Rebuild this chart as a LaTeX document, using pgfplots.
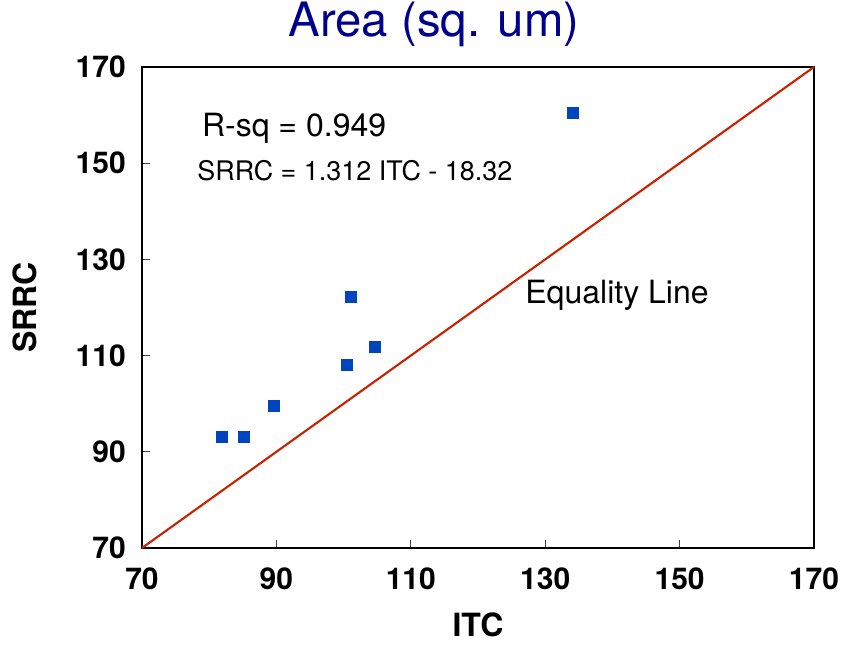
\documentclass[border=0pt]{standalone}
\usepackage{pgfplots}
\pgfplotsset{compat=1.18}
\usepackage{fontspec}
\setmainfont{TeX Gyre Heros}
\definecolor{ttl}{RGB}{0,0,140}
\definecolor{pts}{RGB}{0,68,190}
\definecolor{eql}{RGB}{200,34,0}
\begin{document}
\begin{tikzpicture}
\useasboundingbox (-106.5pt,-72.75pt) rectangle (526.5pt,411pt);
\begin{axis}[
  at={(0,0)}, anchor=south west,
  scale only axis, width=504pt, height=360.75pt,
  xmin=70, xmax=170, ymin=70, ymax=170,
  xtick={70,90,110,130,150,170}, ytick={70,90,110,130,150,170},
  tick pos=left, tick align=inside, major tick length=6pt,
  axis line style={black, line width=0.9pt},
  tick style={black!75, line width=0.7pt},
  /pgf/number format/assume math mode=true,
  ticklabel style={font=\fontsize{22.5}{24}\selectfont\bfseries, inner sep=0pt},
  xticklabel style={anchor=base, yshift=-31.5pt},
  yticklabel style={anchor=east, xshift=-12pt},
  xlabel={ITC}, ylabel={SRRC},
  label style={font=\fontsize{24}{26}\selectfont\bfseries, inner sep=0pt},
  xlabel style={at={(axis description cs:0.5,0)}, anchor=base, yshift=-66.75pt},
  ylabel style={at={(axis description cs:0,0.5)}, anchor=center, yshift=88pt},
  title={Area (sq. um)},
  title style={font=\fontsize{35.5}{37}\selectfont, text=ttl, inner sep=0pt, at={(axis description cs:0.4345,1)}, anchor=base, yshift=16.5pt},
  clip=false,
]
\addplot[eql, line width=1.6pt] coordinates {(70,70) (170,170)};
\addplot[only marks, mark=square*, mark size=4.1pt, mark options={fill=pts, draw=pts}] coordinates {
(81.9,93.1) (85.2,93.1) (89.6,99.5) (100.5,108.0) (101.0,122.2) (104.7,111.8) (134.1,160.4)
};
\node[anchor=base west, inner sep=0pt, font=\fontsize{24}{26}\selectfont] at (axis cs:78.9,155.45) {R-sq = 0.949};
\node[anchor=base west, inner sep=0pt, font=\fontsize{20.2}{22}\selectfont] at (axis cs:78.2,146.5) {SRRC = 1.312 ITC - 18.32};
\node[anchor=base west, inner sep=0pt, font=\fontsize{24}{26}\selectfont] at (axis cs:127.0,120.9) {Equality Line};
\end{axis}
\end{tikzpicture}
\end{document}
